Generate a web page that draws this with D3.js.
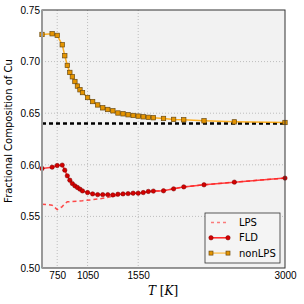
<!DOCTYPE html>
<html>
<head>
<meta charset="utf-8">
<script src="https://cdn.jsdelivr.net/npm/d3@7"></script>
<style>
  body { margin: 0; background: #fff; }
  svg { display: block; font-family: "DejaVu Sans", sans-serif; }
</style>
</head>
<body>
<div id="container"></div>
<script>
// Chart dimensions and margins
const width = 304;
const height = 304;
const marginTop = 10;
const marginRight = 19;
const marginBottom = 36;
const marginLeft = 42;

// temperatures (K)
const tempsNonLPS = [600, 700, 750, 800, 825, 850, 875, 900, 925, 950, 975, 1000, 1050, 1100, 1150, 1200, 1250, 1300, 1350, 1400, 1450, 1500, 1550, 1600, 1650, 1700, 1800, 1900, 2000, 2200, 2500, 3000];
const valuesNonLPS = [0.7263, 0.7270, 0.7254, 0.7163, 0.7057, 0.6963, 0.6895, 0.6853, 0.6807, 0.6763, 0.6727, 0.6700, 0.6652, 0.6613, 0.6580, 0.6552, 0.6536, 0.6523, 0.6502, 0.6494, 0.6485, 0.6478, 0.6472, 0.6465, 0.6460, 0.6456, 0.6449, 0.6440, 0.6436, 0.6426, 0.6416, 0.6410];

const tempsFLD = tempsNonLPS;
const valuesFLD = [0.5964, 0.5977, 0.5993, 0.5997, 0.5948, 0.5893, 0.5851, 0.5818, 0.5796, 0.5780, 0.5764, 0.5747, 0.5731, 0.5718, 0.5711, 0.5711, 0.5711, 0.5708, 0.5715, 0.5718, 0.5721, 0.5725, 0.5725, 0.5731, 0.5742, 0.5745, 0.5748, 0.5767, 0.5786, 0.5806, 0.5832, 0.5871];

const tempsLPS = [600, 700, 750, 800, 825, 850, 900, 1000, 1100, 1200, 1300, 1400, 1500, 1600, 1700, 1800, 1900, 2000, 2200, 2500, 3000];
const valuesLPS = [0.5618, 0.5609, 0.5566, 0.5595, 0.5625, 0.5641, 0.5645, 0.5652, 0.5662, 0.5675, 0.5695, 0.5712, 0.5723, 0.5731, 0.5745, 0.5748, 0.5767, 0.5786, 0.5806, 0.5832, 0.5871];

// reference level (black dashed)
const refLevel = 0.64;

const xTicks = [750, 1050, 1550, 3000];
const yTicks = [0.50, 0.55, 0.60, 0.65, 0.70, 0.75];

const legendNames = ["LPS", "FLD", "nonLPS"];

// Scales
const x = d3.scaleLinear()
    .domain([600, 3000])
    .range([marginLeft, width - marginRight]);

const y = d3.scaleLinear()
    .domain([0.50, 0.75])
    .range([height - marginBottom, marginTop]);

const line = d3.line()
    .x(d => x(d[0]))
    .y(d => y(d[1]));

const svg = d3.select("#container").append("svg")
    .attr("width", width)
    .attr("height", height)
    .attr("viewBox", [0, 0, width, height]);

// Plot background
svg.append("rect")
    .attr("x", marginLeft)
    .attr("y", marginTop)
    .attr("width", width - marginLeft - marginRight)
    .attr("height", height - marginTop - marginBottom)
    .attr("fill", "#f2f2f2");

// Grid lines
svg.append("g")
    .selectAll("line")
    .data(xTicks.slice(0, -1))
    .join("line")
    .attr("x1", d => x(d)).attr("x2", d => x(d))
    .attr("y1", marginTop).attr("y2", height - marginBottom)
    .attr("stroke", "#bdbdbd")
    .attr("stroke-dasharray", "1,2");

svg.append("g")
    .selectAll("line")
    .data(yTicks.slice(1, -1))
    .join("line")
    .attr("x1", marginLeft).attr("x2", width - marginRight)
    .attr("y1", d => y(d)).attr("y2", d => y(d))
    .attr("stroke", "#bdbdbd")
    .attr("stroke-dasharray", "1,2");

// Black dashed reference
svg.append("line")
    .attr("x1", marginLeft).attr("x2", width - marginRight)
    .attr("y1", y(refLevel)).attr("y2", y(refLevel))
    .attr("stroke", "#000")
    .attr("stroke-width", 2.5)
    .attr("stroke-dasharray", "4,3");

const lps = d3.zip(tempsLPS, valuesLPS);
const fld = d3.zip(tempsFLD, valuesFLD);
const nonlps = d3.zip(tempsNonLPS, valuesNonLPS);

// LPS dashed
svg.append("path")
    .datum(lps)
    .attr("fill", "none")
    .attr("stroke", "#ff2a2a")
    .attr("stroke-opacity", 0.85)
    .attr("stroke-width", 1.5)
    .attr("stroke-dasharray", "4,3")
    .attr("d", line);

// FLD line + circles
svg.append("path")
    .datum(fld)
    .attr("fill", "none")
    .attr("stroke", "#ff2222")
    .attr("stroke-opacity", 0.85)
    .attr("stroke-width", 1.5)
    .attr("d", line);

svg.append("g")
    .selectAll("circle")
    .data(fld)
    .join("circle")
    .attr("cx", d => x(d[0]))
    .attr("cy", d => y(d[1]))
    .attr("r", 2.2)
    .attr("fill", "#d40000")
    .attr("stroke", "#700")
    .attr("stroke-width", 0.5);

// nonLPS line + squares
svg.append("path")
    .datum(nonlps)
    .attr("fill", "none")
    .attr("stroke", "#ffa500")
    .attr("stroke-opacity", 0.85)
    .attr("stroke-width", 1.5)
    .attr("d", line);

svg.append("g")
    .selectAll("rect")
    .data(nonlps)
    .join("rect")
    .attr("x", d => x(d[0]) - 2.2)
    .attr("y", d => y(d[1]) - 2.2)
    .attr("width", 4.4)
    .attr("height", 4.4)
    .attr("fill", "#e59400")
    .attr("stroke", "#6b4a10")
    .attr("stroke-width", 0.7);

// Frame
svg.append("rect")
    .attr("x", marginLeft)
    .attr("y", marginTop)
    .attr("width", width - marginLeft - marginRight)
    .attr("height", height - marginTop - marginBottom)
    .attr("fill", "none")
    .attr("stroke", "#333")
    .attr("stroke-width", 1);

svg.append("line")
    .attr("x1", marginLeft).attr("x2", marginLeft)
    .attr("y1", marginTop).attr("y2", height - marginBottom)
    .attr("stroke", "#999")
    .attr("stroke-width", 2);

// Axes
svg.append("g")
    .attr("transform", `translate(0,${height - marginBottom})`)
    .call(d3.axisBottom(x).tickValues(xTicks).tickFormat(d3.format("d")).tickSize(0).tickPadding(4))
    .call(g => g.select(".domain").remove())
    .call(g => g.selectAll("text").attr("font-size", 10).attr("fill", "#000"));

svg.append("g")
    .attr("transform", `translate(${marginLeft},0)`)
    .call(d3.axisLeft(y).tickValues(yTicks).tickFormat(d3.format(".2f")).tickSize(0).tickPadding(2))
    .call(g => g.select(".domain").remove())
    .call(g => g.selectAll("text").attr("font-size", 10).attr("fill", "#000"));

// Axis labels
svg.append("text")
    .attr("x", 163)
    .attr("y", 295)
    .attr("text-anchor", "middle")
    .attr("font-family", "DejaVu Serif, serif")
    .attr("font-size", 12)
    .html('<tspan font-style="italic">T</tspan> [<tspan font-style="italic">K</tspan>]');

svg.append("text")
    .attr("transform", "translate(12,131) rotate(-90)")
    .attr("text-anchor", "middle")
    .attr("font-size", 10)
    .text("Fractional Composition of Cu");

// Legend
const legend = svg.append("g")
    .attr("transform", "translate(205,213)");

legend.append("rect")
    .attr("width", 75)
    .attr("height", 50)
    .attr("fill", "#f4f4f4")
    .attr("stroke", "#333")
    .attr("stroke-width", 0.8);

legendNames.forEach((name, i) => {
    const row = legend.append("g")
        .attr("transform", `translate(0,${9.5 + i * 15.3})`);
    if (name === "LPS") {
        row.append("line")
            .attr("x1", 6).attr("x2", 23)
            .attr("stroke", "#ff2a2a").attr("stroke-opacity", 0.6)
            .attr("stroke-width", 1.5).attr("stroke-dasharray", "3,3");
    } else if (name === "FLD") {
        row.append("line")
            .attr("x1", 6).attr("x2", 23)
            .attr("stroke", "#ff2222").attr("stroke-width", 1.5);
        [6, 23].forEach(cx => row.append("circle")
            .attr("cx", cx).attr("r", 2.2)
            .attr("fill", "#d40000").attr("stroke", "#700").attr("stroke-width", 0.5));
    } else {
        row.append("line")
            .attr("x1", 6).attr("x2", 23)
            .attr("stroke", "#ffa500").attr("stroke-opacity", 0.6).attr("stroke-width", 1.5);
        [6, 23].forEach(cx => row.append("rect")
            .attr("x", cx - 2).attr("y", -2).attr("width", 4).attr("height", 4)
            .attr("fill", "#e59400").attr("stroke", "#6b4a10").attr("stroke-width", 0.7));
    }
    row.append("text")
        .attr("x", 34)
        .attr("y", 0)
        .attr("dy", "0.35em")
        .attr("font-size", 10)
        .text(name);
});
</script>
</body>
</html>
